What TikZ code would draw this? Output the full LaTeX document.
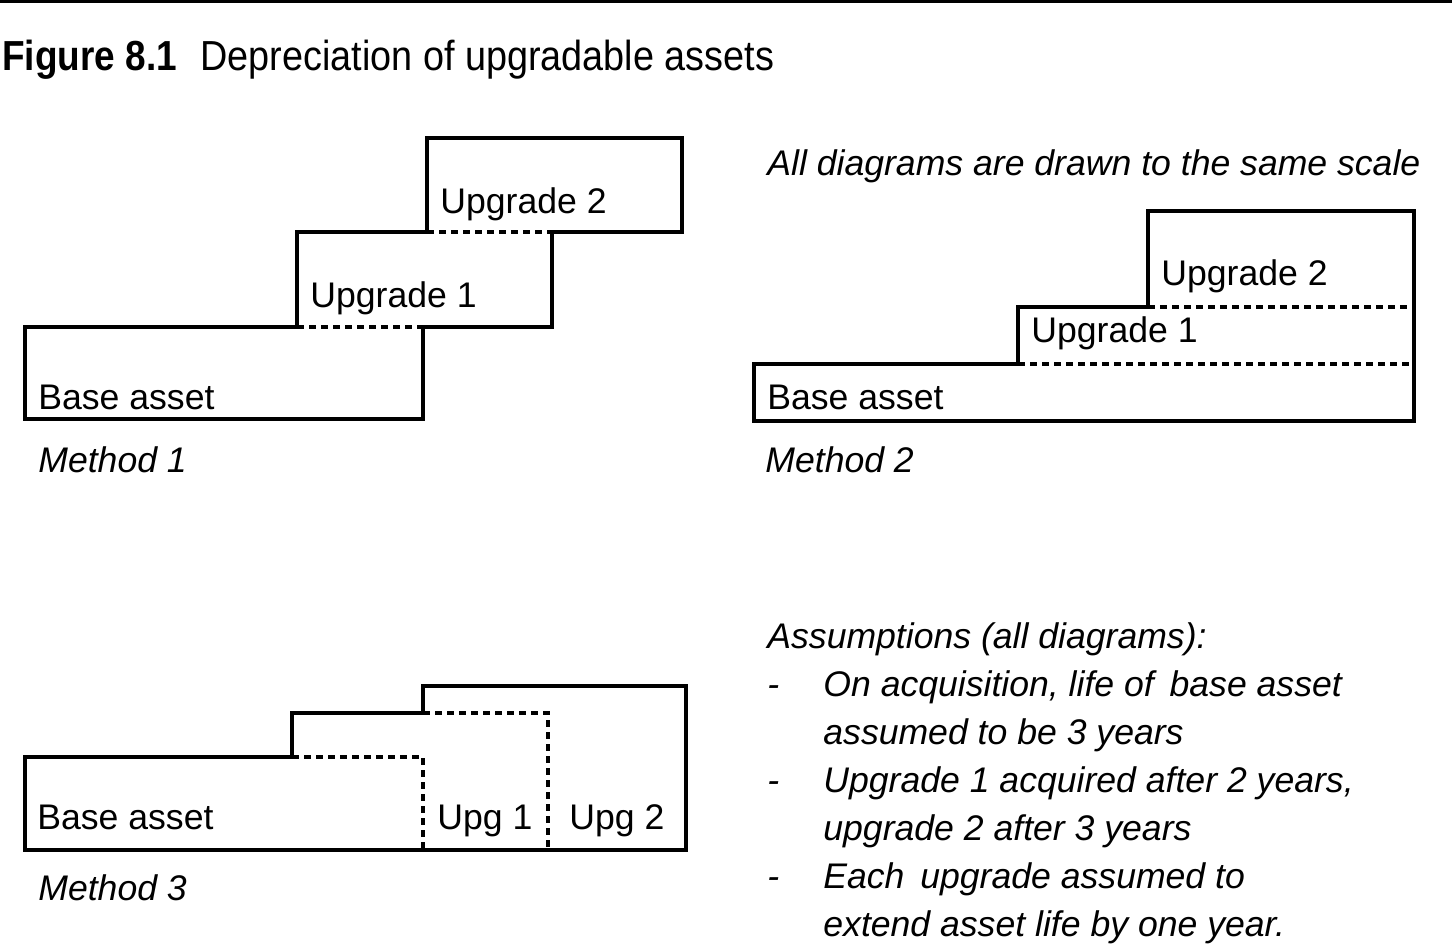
\documentclass[tikz,border=0pt]{standalone}
\usepackage{fontspec}
\setmainfont{Liberation Sans}
\usepackage{tikz}
\usetikzlibrary{positioning}

\begin{document}
\begin{tikzpicture}[
        x=0.5pt, y=-0.5pt,
        boxline/.style={line width=2.2pt, line join=miter},
        dashline/.style={line width=2.2pt, dash pattern=on 3.5pt off 2.5pt},
        lbl/.style={anchor=base west, inner sep=0pt, font=\fontsize{17.8}{21}\selectfont},
        mlbl/.style={lbl, font=\fontsize{17.8}{21}\selectfont\itshape},
        note/.style={mlbl}
    ]
        \useasboundingbox (0,0) rectangle (1452,944);
        \fill (0,0) rectangle (1452,3);

        % title
        \node[anchor=base west, inner sep=0pt] (fig) at (2,70)
            {\scalebox{0.88}[1]{\fontsize{21}{25}\selectfont\bfseries Figure 8.1}};
        \node[anchor=base west, inner sep=0pt] (title) at (200,70)
            {\scalebox{0.9}[1]{\fontsize{21}{25}\selectfont Depreciation of upgradable assets}};

        % Method 1
        \draw[boxline] (297,327) -- (25,327) -- (25,419) -- (423,419) -- (423,327) -- (552,327)
            -- (552,232) -- (682,232) -- (682,138) -- (427,138) -- (427,232);
        \draw[boxline] (297,327) -- (297,232) -- (427,232);
        \draw[dashline] (297,327) -- (423,327);
        \draw[dashline] (427,232) -- (552,232);
        \node[lbl] (m1up2) at (440,213) {Upgrade 2};
        \node[lbl] (m1up1) at (310,307) {Upgrade 1};
        \node[lbl] (m1base) at (38,409) {Base asset};
        \node[mlbl] (m1) at (38,472) {Method 1};

        % Method 2
        \node[note] (scale) at (767,175) {All diagrams are drawn to the same scale};
        \draw[boxline] (754,421) -- (754,364) -- (1018,364) -- (1018,307) -- (1148,307)
            -- (1148,211) -- (1414,211) -- (1414,421) -- cycle;
        \draw[dashline] (1018,364) -- (1414,364);
        \draw[dashline] (1148,307) -- (1414,307);
        \node[lbl] (m2up2) at (1161,285) {Upgrade 2};
        \node[lbl] (m2up1) at (1031,342) {Upgrade 1};
        \node[lbl] (m2base) at (767,409) {Base asset};
        \node[mlbl] (m2) at (765,472) {Method 2};

        % Method 3
        \draw[boxline] (25,850) -- (25,757) -- (292,757) -- (292,713) -- (423,713)
            -- (423,686) -- (686,686) -- (686,850) -- cycle;
        \draw[dashline] (292,757) -- (423,757) -- (423,850);
        \draw[dashline] (423,713) -- (548,713) -- (548,850);
        \node[lbl] (m3base) at (37,829) {Base asset};
        \node[lbl] (m3up1) at (437,829) {Upg 1};
        \node[lbl] (m3up2) at (569,829) {Upg 2};
        \node[mlbl] (m3) at (38,900) {Method 3};

        % assumptions
        \node[note] (ass) at (767,648) {Assumptions (all diagrams):};
        \foreach \y in {696,792,888}
            \node[note] at (767,\y) {-};
        \node[note] (a1) at (823,696) {On acquisition, life of\, base asset};
        \node[note] (a1b) at (823,744) {assumed to be 3 years};
        \node[note] (a2) at (823,792) {Upgrade 1 acquired after 2 years,};
        \node[note] (a2b) at (823,840) {upgrade 2 after 3 years};
        \node[note] (a3) at (823,888) {Each\, upgrade assumed to};
        \node[note] (a3b) at (823,936) {extend asset life by one year.};
    \end{tikzpicture}
\end{document}
